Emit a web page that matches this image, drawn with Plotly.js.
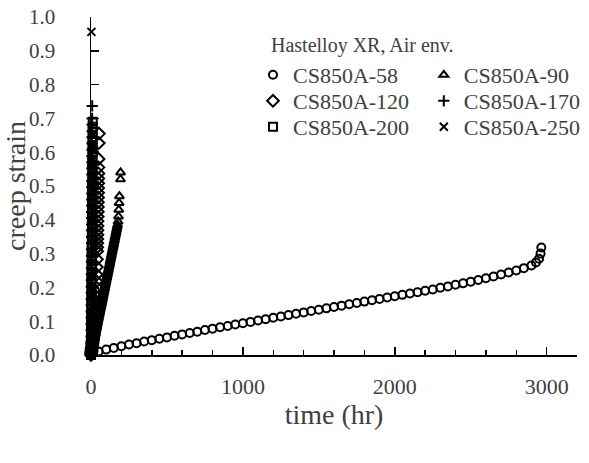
<!DOCTYPE html>
<html>
<head>
<meta charset="utf-8">
<script src="https://cdn.plot.ly/plotly-3.0.1.min.js"></script>
<style>html,body{margin:0;padding:0;background:#fff}#chart{width:589px;height:463px}</style>
</head>
<body>
<div id="chart"></div>
<script>
// CS850A-58 (circles)
const time58 = [0,50,100,150,200,250,300,350,400,450,500,550,600,650,700,750,800,850,900,950,1000,1050,1100,1150,1200,1250,1300,1350,1400,1450,1500,1550,1600,1650,1700,1750,1800,1850,1900,1950,2000,2050,2100,2150,2200,2250,2300,2350,2400,2450,2500,2550,2600,2650,2700,2750,2800,2850,2900,2930,2950,2960,2965];
const strain58 = [0.000,0.010,0.016,0.021,0.026,0.031,0.035,0.040,0.044,0.048,0.052,0.057,0.061,0.065,0.069,0.074,0.078,0.082,0.086,0.090,0.094,0.098,0.102,0.106,0.110,0.114,0.118,0.122,0.126,0.130,0.134,0.138,0.142,0.146,0.150,0.154,0.158,0.162,0.166,0.170,0.174,0.178,0.182,0.186,0.190,0.194,0.199,0.203,0.208,0.212,0.217,0.222,0.227,0.232,0.238,0.244,0.250,0.257,0.265,0.274,0.285,0.300,0.318];
// CS850A-90 (triangles)
const time90 = [0,2.5,5,7.5,10,12.5,15,17.5,20,22.5,25,27.5,30,32.5,35,37.5,40,42.5,45,47.5,50,52.5,55,57.5,60,62.5,65,67.5,70,72.5,75,77.5,80,82.5,85,87.5,90,92.5,95,97.5,100,102.5,105,107.5,110,112.5,115,117.5,120,122.5,125,127.5,130,132.5,135,137.5,140,142.5,145,147.5,150,152.5,155,157.5,160,162.5,165,167.5,170,172.5,175,178,181,183,185,187,194,194.5];
const strain90 = [0.000,0.006,0.011,0.017,0.022,0.028,0.033,0.039,0.044,0.050,0.055,0.061,0.066,0.072,0.077,0.083,0.088,0.094,0.099,0.105,0.110,0.116,0.121,0.127,0.132,0.138,0.143,0.149,0.154,0.160,0.165,0.171,0.176,0.182,0.187,0.193,0.198,0.204,0.209,0.215,0.220,0.226,0.231,0.237,0.242,0.248,0.253,0.259,0.264,0.270,0.275,0.281,0.286,0.292,0.297,0.303,0.308,0.314,0.319,0.325,0.330,0.336,0.341,0.347,0.352,0.358,0.363,0.369,0.374,0.380,0.385,0.395,0.410,0.430,0.450,0.470,0.520,0.540];
// CS850A-120 (diamonds)
const time120 = [0,1,2,3,4,5,6,7,8,9,10,11,12,13,14,15,16,17,18,19,20,21,22,23,24,25,26,27,28,29,30,31,32,33,34,35,36,37,38,39,40,40.5,41,41.5,42,42.5,43,43.5,44,44.5,45,45.5,46,46.5,47,47.5,48,48.5,49,50,51,52];
const strain120 = [0.000,0.004,0.008,0.011,0.015,0.019,0.023,0.026,0.030,0.034,0.038,0.042,0.046,0.050,0.054,0.058,0.062,0.067,0.071,0.076,0.080,0.085,0.090,0.095,0.100,0.106,0.112,0.118,0.125,0.133,0.141,0.150,0.160,0.172,0.185,0.200,0.218,0.238,0.260,0.283,0.307,0.319,0.331,0.343,0.356,0.369,0.382,0.396,0.410,0.424,0.438,0.452,0.466,0.480,0.494,0.508,0.522,0.537,0.555,0.580,0.627,0.655];
// CS850A-170 (plus)
const time170 = [0,0.2,0.4,0.6,0.8,1.0,1.2,1.4,1.6,1.8,2.0,2.2,2.4,2.6,2.8,3.0,3.2,3.4,3.6,3.8,4.0,4.2,4.4,4.6,4.8,5.0,5.2,5.4,5.6,5.8,6.0,6.2,6.4,6.6,6.8,7.0,7.2,7.4,7.6,8.0];
const strain170 = [0.000,0.018,0.037,0.055,0.074,0.092,0.110,0.129,0.147,0.166,0.184,0.202,0.221,0.239,0.258,0.276,0.294,0.313,0.331,0.350,0.368,0.386,0.405,0.423,0.442,0.460,0.478,0.497,0.515,0.534,0.552,0.570,0.589,0.607,0.626,0.644,0.662,0.681,0.700,0.737];
// CS850A-200 (squares)
const time200 = [0,0.25,0.5,0.75,1,1.25,1.5,1.75,2,2.25,2.5,2.75,3,3.25,3.5,3.75,4,4.25,4.5,4.75,5,5.25,5.5,5.75,6,6.25,6.5,6.75,7,7.25,7.5,7.75,8,8.25,8.5,8.75,9,9.25,9.5,9.75,10,10.25,10.5,10.75,11,11.25,11.5];
const strain200 = [0.000,0.015,0.030,0.045,0.060,0.075,0.090,0.105,0.120,0.135,0.150,0.165,0.180,0.195,0.210,0.225,0.240,0.255,0.270,0.285,0.300,0.315,0.330,0.345,0.360,0.375,0.390,0.405,0.420,0.435,0.450,0.465,0.480,0.495,0.510,0.525,0.540,0.555,0.570,0.585,0.600,0.615,0.630,0.645,0.660,0.675,0.690];
// CS850A-250 (x)
const time250 = [0,0.1,0.2,0.3,0.4,0.5,0.6,0.7,0.8,0.9,1.0,1.1,1.2,1.3,1.4,1.5,1.6,1.7,1.8,1.9,2.0,2.1,2.2,2.3,2.4,2.5,2.6,2.8];
const strain250 = [0.000,0.024,0.048,0.072,0.095,0.119,0.143,0.167,0.191,0.215,0.238,0.262,0.286,0.310,0.334,0.358,0.381,0.405,0.429,0.453,0.477,0.500,0.524,0.548,0.572,0.596,0.620,0.956];

const seriesNames = ['CS850A-58','CS850A-90','CS850A-120','CS850A-170','CS850A-200','CS850A-250'];
const legendTitle = 'Hastelloy XR, Air env.';
const xTitle = 'time (hr)';
const yTitle = 'creep strain';

const FONT = 'Liberation Serif, Times New Roman, serif';
const TXT = '#404040';

function mk(x, y, name, symbol, size, legend) {
  return {
    type: 'scatter', mode: 'markers', x: x, y: y, name: name,
    legend: legend, cliponaxis: false,
    marker: {symbol: symbol, size: size, color: '#000', line: {width: 2, color: '#000'}}
  };
}

const data = [
  mk(time58, strain58, seriesNames[0], 'circle-open', 8, 'legend'),
  mk(time90, strain90, seriesNames[1], 'triangle-up-open', 8, 'legend2'),
  mk(time120, strain120, seriesNames[2], 'diamond-open', 9, 'legend3'),
  mk(time170, strain170, seriesNames[3], 'cross-thin-open', 8, 'legend4'),
  mk(time200, strain200, seriesNames[4], 'square-open', 8, 'legend5'),
  mk(time250, strain250, seriesNames[5], 'x-thin-open', 8, 'legend6')
];

function leg(x, y) {
  return {
    x: x, y: y, xanchor: 'left', yanchor: 'middle', orientation: 'v',
    font: {family: FONT, size: 22, color: TXT},
    bgcolor: 'rgba(0,0,0,0)', borderwidth: 0
  };
}
const col1 = 0.3333, col2 = 0.6848;
const row1 = 0.8284, row2 = 0.7515, row3 = 0.6746;

const layout = {
  width: 589, height: 463,
  margin: {l: 91, r: 3, t: 17, b: 108, pad: 0},
  paper_bgcolor: '#fff', plot_bgcolor: '#fff',
  font: {family: FONT, color: TXT},
  showlegend: true,
  legend: leg(col1, row1), legend2: leg(col2, row1),
  legend3: leg(col1, row2), legend4: leg(col2, row2),
  legend5: leg(col1, row3), legend6: leg(col2, row3),
  xaxis: {
    range: [0, 3200], tick0: 0, dtick: 1000,
    ticks: 'inside', ticklen: 8, tickwidth: 1.5, tickcolor: '#000',
    showline: true, linecolor: '#000', linewidth: 1.5,
    showgrid: false, zeroline: false, automargin: false,
    tickfont: {family: FONT, size: 22, color: TXT},
    ticklabelstandoff: 11,
    minor: {dtick: 200, ticks: 'inside', ticklen: 5, tickwidth: 1.5, tickcolor: '#000', showgrid: false},
    title: {text: xTitle, font: {family: FONT, size: 28, color: TXT}, standoff: 0}
  },
  yaxis: {
    range: [0, 1], tick0: 0, dtick: 0.1, tickformat: '.1f',
    ticks: 'inside', ticklen: 8, tickwidth: 1.5, tickcolor: '#000',
    showline: true, linecolor: '#000', linewidth: 1.5,
    showgrid: false, zeroline: false, automargin: false,
    tickfont: {family: FONT, size: 21, color: TXT},
    ticklabelstandoff: 30,
    title: {text: yTitle, font: {family: FONT, size: 28, color: TXT}, standoff: 12}
  },
  annotations: [{
    text: legendTitle, xref: 'paper', yref: 'paper', x: 0.3657, y: 0.917,
    xanchor: 'left', yanchor: 'middle', showarrow: false,
    font: {family: FONT, size: 20, color: TXT}
  }]
};

Plotly.newPlot('chart', data, layout, {displayModeBar: false, staticPlot: true});
</script>
</body>
</html>
